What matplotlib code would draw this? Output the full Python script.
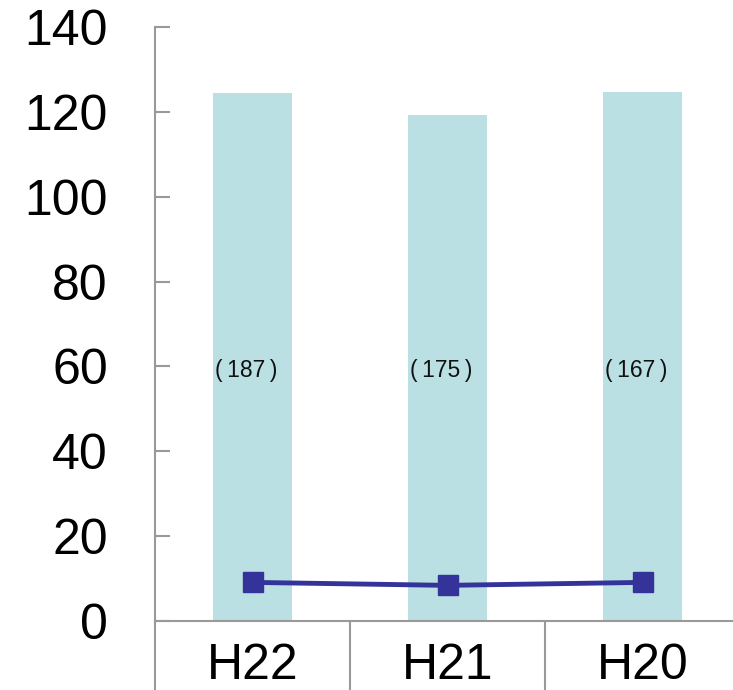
import numpy as np
import matplotlib
matplotlib.use("Agg")
import matplotlib.pyplot as plt
from matplotlib.ticker import FixedLocator

# Données
categories = ["H22", "H21", "H20"]
bar_values = [124.5, 119.3, 124.7]
line_values = [9.1, 8.4, 9.1]
bar_labels = ["(\u2009187\u2009)", "(\u2009175\u2009)", "(\u2009167\u2009)"]
label_height = 59

plt.rcParams['font.family'] = ['Liberation Sans', 'DejaVu Sans']

fig = plt.figure(figsize=(7.33, 6.90), dpi=100)
ax = fig.add_axes([155 / 733, 69 / 690, 585 / 733, 594 / 690])

x = np.arange(len(categories))
ax.bar(x, bar_values, width=0.405, color="#BAE0E3", zorder=1)
ax.plot(x, line_values, color="#333399", lw=3.5, marker="s", markersize=14.5,
        markerfacecolor="#333399", markeredgecolor="#333399", zorder=3)

for xi, lab in zip(x, bar_labels):
    ax.text(xi - 0.03, label_height, lab, ha="center", va="center", fontsize=16.5, color="#111111")

ax.set_xlim(-0.5, 2.5)
ax.set_ylim(0, 140)
ax.set_yticks(np.arange(0, 141, 20))

# Axes et graduations
for side in ["top", "right"]:
    ax.spines[side].set_visible(False)
for side in ["left", "bottom"]:
    ax.spines[side].set_color("#999999")
    ax.spines[side].set_linewidth(1.5)

ax.tick_params(axis="y", direction="in", length=11, width=1.5, color="#999999",
               labelsize=36, pad=34)
ax.set_xticks(x)
ax.set_xticklabels(categories)
ax.tick_params(axis="x", which="major", length=0, labelsize=36, pad=16)
ax.xaxis.set_minor_locator(FixedLocator([-0.5, 0.5, 1.5, 2.5]))
ax.tick_params(axis="x", which="minor", direction="out", length=55, width=1.5, color="#999999")

fig.savefig("out.png", dpi=100)
